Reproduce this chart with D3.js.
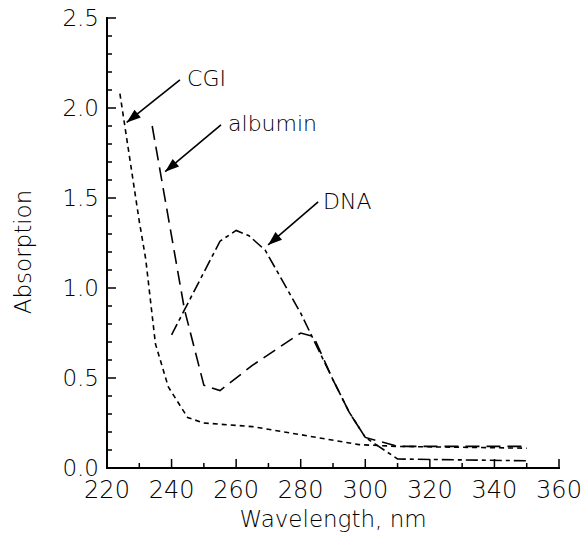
<!DOCTYPE html>
<html>
<head>
<meta charset="utf-8">
<script src="https://cdn.jsdelivr.net/npm/d3@7"></script>
<style>
  body { margin: 0; background: #fff; }
  svg text { font-family: "DejaVu Sans", sans-serif; font-weight: 200; fill: #000; }
</style>
</head>
<body>
<svg id="chart" width="584" height="537"></svg>
<script>
// DATA (wavelength nm, absorption)
const cgi = [
  [224, 2.08], [230, 1.37], [232, 1.16], [235, 0.69], [239, 0.45],
  [245, 0.28], [250, 0.25], [265, 0.23], [280, 0.185], [298, 0.13],
  [310, 0.12], [350, 0.11]
];
const albumin = [
  [234, 1.90], [244, 0.88], [250, 0.46], [255, 0.43], [265, 0.57],
  [280, 0.75], [284, 0.73], [290, 0.49], [295, 0.31], [300, 0.17],
  [310, 0.12], [350, 0.12]
];
const dna = [
  [240, 0.74], [255, 1.26], [260, 1.32], [264, 1.29], [269, 1.21],
  [280, 0.86], [290, 0.49], [295, 0.31], [300, 0.17], [310, 0.05],
  [350, 0.04]
];
const xTicks = [220, 240, 260, 280, 300, 320, 340, 360];
const xMinor = [230, 250, 270, 290, 310, 330, 350];
const yTicks = [0, 0.5, 1.0, 1.5, 2.0, 2.5];
const yMinor = [0.1, 0.2, 0.3, 0.4, 0.6, 0.7, 0.8, 0.9, 1.1, 1.2, 1.3, 1.4,
                1.6, 1.7, 1.8, 1.9, 2.1, 2.2, 2.3, 2.4];

// annotation labels: text position and arrow (from -> tip) in data units
const labels = [
  { text: "CGI",     tx: 244.8, ty: 2.12, from: [242.6, 2.156], to: [226.1, 1.92] },
  { text: "albumin", tx: 257.5, ty: 1.87, from: [255.3, 1.906], to: [238.0, 1.646] },
  { text: "DNA",     tx: 286.9, ty: 1.44, from: [285.4, 1.478], to: [269.9, 1.239] }
];

// LAYOUT
const margin = { top: 18, right: 25, bottom: 69, left: 107 };
const width = 584 - margin.left - margin.right;
const height = 537 - margin.top - margin.bottom;

const svg = d3.select("#chart");
const g = svg.append("g").attr("transform", `translate(${margin.left},${margin.top})`);

const x = d3.scaleLinear().domain([220, 360]).range([0, width]);
const y = d3.scaleLinear().domain([0, 2.5]).range([height, 0]);

// tick labels
g.append("g")
  .selectAll("text")
  .data(xTicks)
  .join("text")
    .attr("x", d => x(d))
    .attr("y", height + 13)
    .attr("dy", "0.72em")
    .attr("text-anchor", "middle")
    .attr("font-size", 24)
    .text(d => d);
g.append("g")
  .selectAll("text")
  .data(yTicks)
  .join("text")
    .attr("x", -8)
    .attr("y", d => y(d))
    .attr("dy", "0.35em")
    .attr("text-anchor", "end")
    .attr("font-size", 23)
    .text(d => d3.format(".1f")(d));

// axis titles
g.append("text")
    .attr("x", width / 2)
    .attr("y", height + 59)
    .attr("text-anchor", "middle")
    .attr("font-size", 23)
    .text("Wavelength, nm");
g.append("text")
    .attr("transform", `translate(${31 - margin.left},${height / 2 + 9}) rotate(-90)`)
    .attr("text-anchor", "middle")
    .attr("font-size", 23)
    .text("Absorption");

// curves
const line = d3.line().x(d => x(d[0])).y(d => y(d[1]));
const series = [
  { data: cgi, dash: "5,4" },
  { data: albumin, dash: "14,7" },
  { data: dna, dash: "12,4,4,4" }
];
g.append("g")
  .selectAll("path")
  .data(series)
  .join("path")
    .attr("d", d => line(d.data))
    .attr("fill", "none")
    .attr("stroke", "#000")
    .attr("stroke-width", 1.6)
    .attr("stroke-dasharray", d => d.dash);

// arrows and labels
const ann = g.append("g");
ann.selectAll("line")
  .data(labels)
  .join("line")
    .attr("x1", d => x(d.from[0])).attr("y1", d => y(d.from[1]))
    .attr("x2", d => x(d.to[0])).attr("y2", d => y(d.to[1]))
    .attr("stroke", "#000")
    .attr("stroke-width", 1.6);

// arrow heads as filled triangles pointing at the tip
ann.selectAll("path")
  .data(labels)
  .join("path")
    .attr("d", "M0,0 L-14,-5 L-14,5 Z")
    .attr("fill", "#000")
    .attr("transform", d => {
      const x1 = x(d.from[0]), y1 = y(d.from[1]);
      const x2 = x(d.to[0]), y2 = y(d.to[1]);
      const angle = Math.atan2(y2 - y1, x2 - x1) * 180 / Math.PI;
      return `translate(${x2},${y2}) rotate(${angle})`;
    });

ann.selectAll("text")
  .data(labels)
  .join("text")
    .attr("x", d => x(d.tx))
    .attr("y", d => y(d.ty))
    .attr("font-size", 22)
    .text(d => d.text);

// AXES: thin filled rects placed with the scales (ticks point inward)
const axes = g.append("g").attr("fill", "#000");

axes.append("rect")   // x axis line
    .attr("x", x(220) - 1).attr("y", y(0) - 1)
    .attr("width", x(360) - x(220) + 2).attr("height", 2);
axes.append("rect")   // y axis line
    .attr("x", x(220) - 1).attr("y", y(2.5) - 1)
    .attr("width", 2).attr("height", y(0) - y(2.5) + 2);

axes.selectAll(".xtick")
  .data(xTicks.map(v => [v, 9]).concat(xMinor.map(v => [v, 5])))
  .join("rect")
    .attr("class", "xtick")
    .attr("x", d => x(d[0]) - 0.75)
    .attr("y", d => y(0) - d[1])
    .attr("width", 1.5)
    .attr("height", d => d[1]);

axes.selectAll(".ytick")
  .data(yTicks.map(v => [v, 9]).concat(yMinor.map(v => [v, 5])))
  .join("rect")
    .attr("class", "ytick")
    .attr("x", x(220))
    .attr("y", d => y(d[0]) - 0.75)
    .attr("width", d => d[1])
    .attr("height", 1.5);
</script>
</body>
</html>
